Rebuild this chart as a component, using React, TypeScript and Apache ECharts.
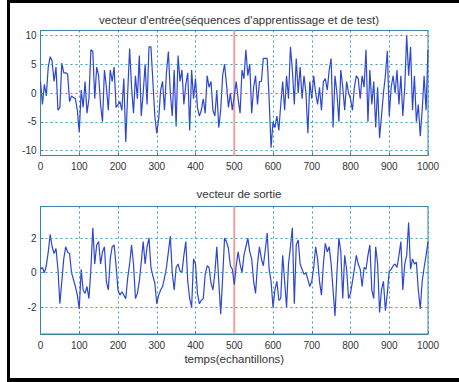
import React, { useEffect, useRef } from "react";
import * as echarts from "echarts";

// ---- data (one value every 5 samples) ----
const sampleStep = 5;

const inputValues = [
  2, -2, 1.5, -0.5, 4.5, 6.3, 5.5, 2, 4.5, -3, -2.5, 5.2, 3.5, 3.5, 3.3, -1.5, -0.5, -0.8, -1, -3, -6.8,
  0.5, -2.5, 2, -3.5, -1, 7.5, 7.2, -1, 4.5, 3, -2, -5, 4, 1, -3, 4, 2, 4.5, -2.5, -2,
  -1.5, -3, 2.5, -8.5, 0, 7.7, 1, -3.5, 3, -1, 6.5, -4, 0, 5, -2, 8, 8, 2, -4, -7,
  -4.5, 0.5, 2, -3, 3.5, 7.2, 0, -4, 4, -5.8, 6.5, 2, 4, -2, 1.5, 3.5, -6.5, 4, -1, 2.5,
  -2.5, -4, -3, -1, -3.5, 3, 1, 2, -3, -4, 0.5, -6, -3, 3, 5, 1.5, -2.5, 0, -3, -0.5,
  2, -1, -3.5, 4, 2.5, 7.5, 3, 5, -3.5, 1, 3, -2, 2, 2, 6, 6, 6, -1, -9.5, -5,
  -6, -4, -6.5, -2, 2, -3, 3, -1, 8, 4, -2, 6, 0, 4.5, -1, 3, 0, -7, 2, -1,
  3, 0, -2, 1, -3, 2, 2.5, 0.5, 4, 6, -6, 3, 0, -5, 4, 1, -3, 2, 0, -1,
  -3, 1, 3, 2.5, -1, 3, 1, 7.5, -5, 4, -2, 2, -6, 1, -7.8, -4, 0, 3, 7.3, -4,
  1, 3, 0, 4, -2, 3, -4, 1, 10, 3, 8, -3, 3, -5, -2, -7.5, -3, 3, -3, 7.5,
];

const outputValues = [
  0.2, 0.3, 0, 0.4, 1.2, 2.2, 1.5, 1.1, 1.4, 0.2, -1.8, -0.5, 0.8, 1.5, 1.2, 1.1, 0, -0.4, -0.8, -1.3, -2.1,
  0.2, -1.0, -1.2, -0.8, -1.5, 0.2, 2.6, 0.5, 1.6, 1.8, 0.5, 1.2, 1.5, -0.5, -1.0, 0.8, 1.5, 1.6, 0.4, -1.0,
  -1.3, -1.1, -1.3, -1.5, -0.3, 0.5, 1.6, 0.5, -1.5, -1.2, -0.5, 0.6, 1.8, 0.5, 1.5, 2.0, 0.3, -0.2, -0.6, -1.8,
  -1.3, -1.0, -0.8, -0.3, 0.3, 1.2, 2.1, 0, -1.0, 0.3, 0.5, 0.1, 0, 1.0, 1.8, -0.5, -1.5, -2.0, 0.8, 0.5,
  -1.2, -1.8, -1.6, -1.5, -0.1, 0.4, 0.3, -0.6, -1.0, 0, 1.5, -0.5, -2.4, -0.3, 2.0, 1.8, 1.4, 0.4, 0.2, -0.7,
  0.4, 1.2, 0.5, 0, 1.0, 1.5, 2.0, 1.2, 0.8, -0.5, -1.2, 0.5, 1.5, 0.8, 0.4, 1.3, 2.3, 0.2, -0.5, -2.0,
  -1.0, -0.5, -1.6, -1.5, 1.0, -0.5, -2.0, 0.5, 1.5, 2.6, -1.8, 1.6, 1.9, 0.5, 0.2, -0.1, 0, -0.4, -0.8, -0.5,
  0.3, 1.5, 0.8, -0.5, -1.3, 0.5, 1.7, 1.2, 1.5, 0.5, -1.0, -2.5, 0, 2.0, 1.2, -1.5, 1.0, 0.2, -1.5, -1.2,
  -0.5, 0.2, 1.0, 0.5, 0.2, -0.8, 0.3, 0.2, 1.0, 1.6, -1.0, -1.5, 1.5, 0.5, -2.3, -1.0, -0.5, -2.2, -1.2, 0.1,
  0.2, 0.4, 0.5, 0.3, 1.0, 1.8, -1.0, 0.5, 1.0, 2.9, 0.2, 0.8, 0.5, 0.6, -1.0, -2.1, -0.5, 0.3, 1.0, 1.8,
];

const xMin = 0;
const xMax = 1000;
const xInterval = 100;
const inputYTicks = [-10, -5, 0, 5, 10];
const outputYTicks = [-2, 0, 2];
const inputRange = [-10.85, 10.85];
const outputRange = [-3.55, 3.83];
const splitSample = 500;

const inputTitle = "vecteur d'entrée(séquences d'apprentissage et de test)";
const outputTitle = "vecteur de sortie";
const xAxisName = "temps(echantillons)";

// ---- styles ----
const FONT = "'Liberation Sans', Arial, Helvetica, sans-serif";
const TEXT = "#333333";
const BOX = "#3a84a4";
const GRID = "#3c9cc4";
const SIGNAL = "#2c46d0";
const SPLIT = "#f4a0a0";

function toPairs(values: number[]) {
  return values.map((v, i) => [i * sampleStep, v]);
}

function makeXAxis(gridIndex: number, withName: boolean) {
  return {
    type: "value",
    gridIndex,
    min: xMin,
    max: xMax,
    interval: xInterval,
    name: withName ? xAxisName : "",
    nameLocation: "middle",
    nameGap: 19,
    nameTextStyle: { color: TEXT, fontSize: 11.5, fontFamily: FONT },
    axisLine: { show: true, onZero: false, lineStyle: { color: BOX, width: 1 } },
    axisTick: { show: true, inside: true, length: 3, lineStyle: { color: BOX } },
    axisLabel: {
      color: TEXT,
      fontSize: 10,
      fontFamily: FONT,
      margin: 6,
      formatter: (v: number) => String(v),
    },
    splitLine: { show: true, lineStyle: { color: GRID, type: [2, 3], width: 1 } },
  };
}

function makeYAxis(gridIndex: number, range: number[], ticks: number[]) {
  return {
    type: "value",
    gridIndex,
    min: range[0],
    max: range[1],
    axisLine: { show: true, onZero: false, lineStyle: { color: BOX, width: 1 } },
    axisTick: { show: true, inside: true, length: 3, customValues: ticks, lineStyle: { color: BOX } },
    axisLabel: { color: TEXT, fontSize: 10, fontFamily: FONT, margin: 4, customValues: ticks },
    splitLine: { show: false },
  };
}

function gridSeries(axisIndex: number, ticks: number[], range: number[]) {
  return [
    {
      type: "line",
      xAxisIndex: axisIndex,
      yAxisIndex: axisIndex,
      data: [],
      silent: true,
      z: 1,
      markLine: {
        silent: true,
        symbol: "none",
        label: { show: false },
        lineStyle: { color: GRID, type: [2, 3], width: 1 },
        data: ticks.map((t) => ({ yAxis: t })),
      },
    },
    {
      type: "line",
      xAxisIndex: axisIndex,
      yAxisIndex: axisIndex,
      data: [
        [splitSample, range[0]],
        [splitSample, range[1]],
      ],
      showSymbol: false,
      silent: true,
      z: 1,
      lineStyle: { color: SPLIT, width: 2 },
    },
  ];
}

export default function App() {
  const ref = useRef<HTMLDivElement>(null);

  useEffect(() => {
    if (!ref.current) return;
    const chart = echarts.init(ref.current, null, { renderer: "svg" });
    chart.setOption({
      animation: false,
      backgroundColor: "#ffffff",
      textStyle: { fontFamily: FONT },
      title: [
        {
          text: inputTitle,
          left: 234,
          top: 9,
          textAlign: "center",
          textStyle: { color: TEXT, fontSize: 11.5, fontWeight: "normal", fontFamily: FONT },
        },
        {
          text: outputTitle,
          left: 234,
          top: 183,
          textAlign: "center",
          textStyle: { color: TEXT, fontSize: 11.5, fontWeight: "normal", fontFamily: FONT },
        },
      ],
      grid: [
        { left: 40.5, top: 30.5, width: 387.5, height: 125, show: true, borderColor: BOX, borderWidth: 1, backgroundColor: "#ffffff" },
        { left: 40.5, top: 206.5, width: 387.5, height: 127.5, show: true, borderColor: BOX, borderWidth: 1, backgroundColor: "#ffffff" },
      ],
      xAxis: [makeXAxis(0, false), makeXAxis(1, true)],
      yAxis: [makeYAxis(0, inputRange, inputYTicks), makeYAxis(1, outputRange, outputYTicks)],
      series: [
        ...gridSeries(0, inputYTicks, inputRange),
        ...gridSeries(1, outputYTicks, outputRange),
        {
          type: "line",
          xAxisIndex: 0,
          yAxisIndex: 0,
          data: toPairs(inputValues),
          showSymbol: false,
          z: 3,
          lineStyle: { color: SIGNAL, width: 1.2 },
        },
        {
          type: "line",
          xAxisIndex: 1,
          yAxisIndex: 1,
          data: toPairs(outputValues),
          showSymbol: false,
          z: 3,
          lineStyle: { color: SIGNAL, width: 1.2 },
        },
      ],
      graphic: [
        { type: "rect", shape: { x: 7, y: 0, width: 452, height: 3 }, style: { fill: "#000000" } },
        { type: "rect", shape: { x: 7, y: 0, width: 3, height: 382 }, style: { fill: "#000000" } },
        { type: "rect", shape: { x: 7, y: 378, width: 452, height: 4 }, style: { fill: "#000000" } },
      ],
    });
    return () => chart.dispose();
  }, []);

  return (
    <div
      ref={ref}
      style={{ position: "fixed", left: 0, top: 0, width: 459, height: 382, background: "#ffffff" }}
    />
  );
}
